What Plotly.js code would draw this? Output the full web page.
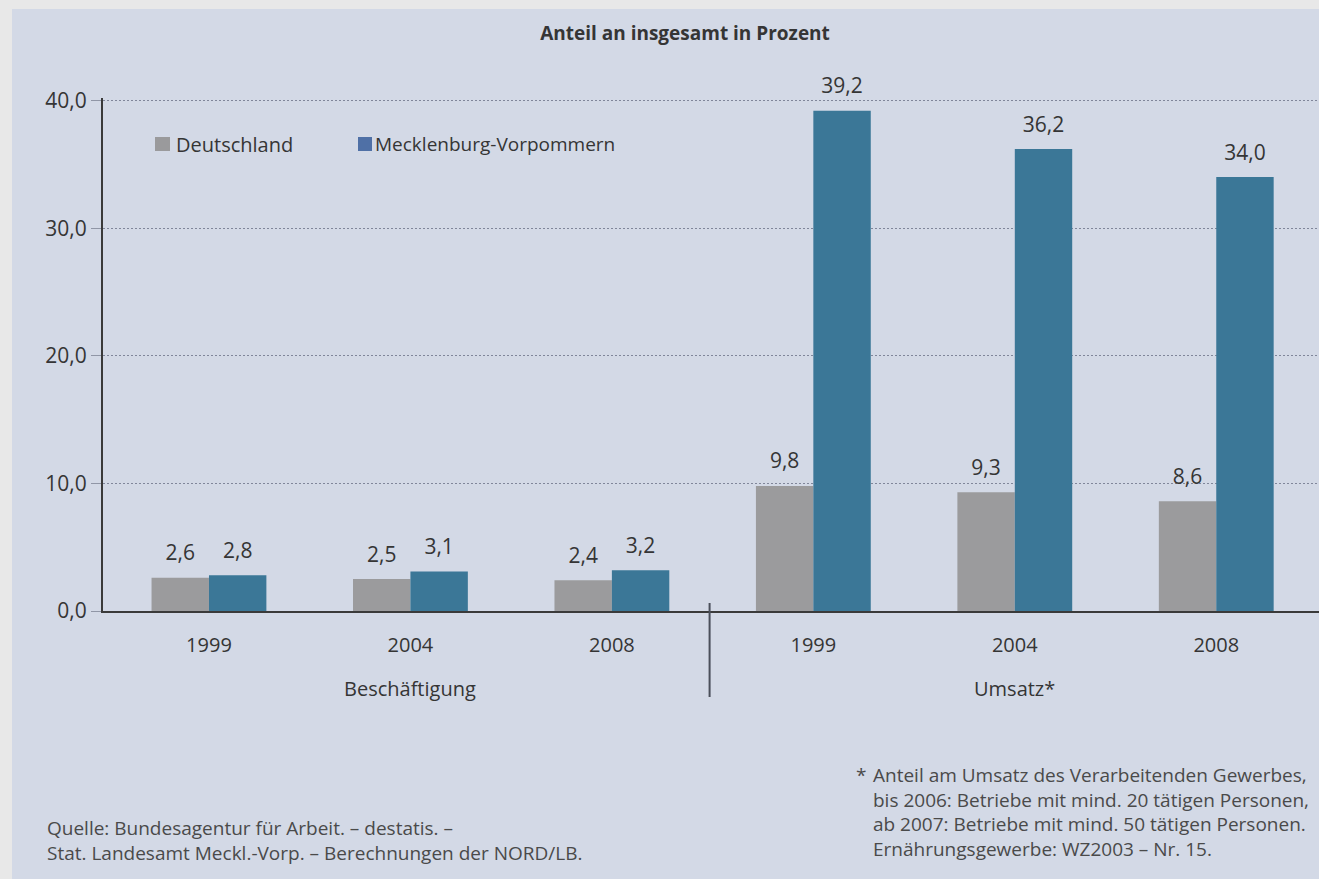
<!DOCTYPE html>
<html>
<head>
<meta charset="utf-8">
<script src="https://cdn.plot.ly/plotly-3.0.1.min.js"></script>
<style>html,body{margin:0;padding:0;background:#d3d9e6;overflow:hidden;}#chart{width:1319px;height:879px;}</style>
</head>
<body>
<div id="chart"></div>
<script>
// ---- data ----
var groups = ["Beschäftigung", "Beschäftigung", "Beschäftigung", "Umsatz*", "Umsatz*", "Umsatz*"];
var years = ["1999", "2004", "2008", "1999", "2004", "2008"];
var deutschland = [2.6, 2.5, 2.4, 9.8, 9.3, 8.6];
var mv = [2.8, 3.1, 3.2, 39.2, 36.2, 34.0];
var seriesNames = ["Deutschland", "Mecklenburg-Vorpommern"];
var groupNames = ["Beschäftigung", "Umsatz*"];
var yTicks = [0, 10, 20, 30, 40];
var titleText = "Anteil an insgesamt in Prozent";
var sourceLines = ["Quelle: Bundesagentur für Arbeit. – destatis. –",
                   "Stat. Landesamt Meckl.-Vorp. – Berechnungen der NORD/LB."];
var noteMark = "*";
var noteLines = ["Anteil am Umsatz des Verarbeitenden Gewerbes,",
                 "bis 2006: Betriebe mit mind. 20 tätigen Personen,",
                 "ab 2007: Betriebe mit mind. 50 tätigen Personen.",
                 "Ernährungsgewerbe: WZ2003 – Nr. 15."];

// unique category keys built from group + year
var cats = groups.map(function (g, i) { return g + " " + years[i]; });

var W = 1319, H = 879;
var L = 103, R = 0, T = 98, B = 268;
var pw = W - L - R, ph = H - T - B;
function px(x) { return (x - L) / pw; }
function py(y) { return (H - B - y) / ph; }

var FONT = "Open Sans, sans-serif";
var TXT = "#353535";
var GREY = "#9b9b9d", BLUE = "#3b7797";
var GAP = 0.43;
function fmt(v) { return v.toFixed(1).replace(".", ","); }

var labelFont = {family: FONT, size: 21, color: TXT};
var traces = [
  {type: "bar", name: seriesNames[0], x: cats, y: deutschland, marker: {color: GREY},
   offsetgroup: "d", hoverinfo: "none", showlegend: false},
  {type: "bar", name: seriesNames[1], x: cats, y: mv, marker: {color: BLUE},
   offsetgroup: "m", hoverinfo: "none", showlegend: false},
  {type: "scatter", mode: "markers+text", x: cats, y: deutschland, offsetgroup: "d",
   marker: {size: 18, color: "rgba(0,0,0,0)"}, text: deutschland.map(fmt),
   textposition: "top center", textfont: labelFont, cliponaxis: false, hoverinfo: "none", showlegend: false},
  {type: "scatter", mode: "markers+text", x: cats, y: mv, offsetgroup: "m",
   marker: {size: 18, color: "rgba(0,0,0,0)"}, text: mv.map(fmt),
   textposition: "top center", textfont: labelFont, cliponaxis: false, hoverinfo: "none", showlegend: false}
];

var noteFont = {family: FONT, size: 19, color: "#4a4a4a"};
var annotations = [];
annotations.push({xref: "paper", yref: "paper", x: px(45), y: py(813), xanchor: "left", yanchor: "top",
  align: "left", text: sourceLines.join("<br>"), showarrow: false, font: noteFont});
annotations.push({xref: "paper", yref: "paper", x: px(854), y: py(760), xanchor: "left", yanchor: "top",
  align: "left", text: noteMark, showarrow: false, font: noteFont});
annotations.push({xref: "paper", yref: "paper", x: px(871), y: py(760), xanchor: "left", yanchor: "top",
  align: "left", text: noteLines.join("<br>"), showarrow: false, font: noteFont});
// group labels, centred under the middle category of each group
annotations.push({xref: "x", yref: "paper", x: cats[1], y: py(689), xanchor: "center", yanchor: "middle",
  text: groupNames[0], showarrow: false, font: {family: FONT, size: 20, color: TXT}});
annotations.push({xref: "x", yref: "paper", x: cats[4], y: py(689), xanchor: "center", yanchor: "middle",
  text: groupNames[1], showarrow: false, font: {family: FONT, size: 20, color: TXT}});
// legend
annotations.push({xref: "paper", yref: "paper", x: px(174), y: py(144), xanchor: "left", yanchor: "middle",
  text: seriesNames[0], showarrow: false, font: {family: FONT, size: 20, color: TXT}});
annotations.push({xref: "paper", yref: "paper", x: px(373), y: py(144), xanchor: "left", yanchor: "middle",
  text: seriesNames[1], showarrow: false, font: {family: FONT, size: 19, color: TXT}});

var layout = {
  width: W, height: H,
  margin: {l: L, r: R, t: T, b: B, pad: 0},
  paper_bgcolor: "#e8e8e8",
  plot_bgcolor: "rgba(0,0,0,0)",
  separators: ",.",
  font: {family: FONT, color: TXT, size: 16},
  title: {text: "<b>" + titleText + "</b>", x: 685 / W, xanchor: "center", y: 1 - 33 / H, yanchor: "middle",
          font: {family: FONT, size: 19, color: TXT}},
  barmode: "group",
  bargap: GAP,
  bargroupgap: 0,
  scattermode: "group",
  scattergap: GAP,
  showlegend: false,
  xaxis: {type: "category", range: [-0.526, 5.51], tickvals: cats, ticktext: years,
          showline: true, linecolor: "#3a3a3a", linewidth: 2,
          ticks: "", showgrid: false, ticklabelstandoff: 15,
          tickfont: {family: FONT, size: 20, color: TXT}, fixedrange: true},
  yaxis: {range: [0, 40.2], tickvals: yTicks, tickformat: ".1f", showline: true, linecolor: "#3a3a3a", linewidth: 2,
          ticks: "outside", ticklen: 10, tickcolor: "#9096a6", tickwidth: 1,
          showgrid: true, gridcolor: "#80869a", griddash: "2px,2px", gridwidth: 1, zeroline: false,
          tickfont: {family: FONT, size: 21, color: TXT}, fixedrange: true},
  shapes: [
    {type: "rect", xref: "paper", yref: "paper", layer: "below",
     x0: px(12), x1: px(W + 5), y0: py(H + 5), y1: py(9),
     fillcolor: "#d3d9e6", line: {width: 0}},
    {type: "line", xref: "x", yref: "paper", x0: 2.485, x1: 2.485, y0: py(603), y1: py(697),
     line: {color: "#4a4f5a", width: 2}},
    {type: "rect", xref: "paper", yref: "paper", x0: px(155), x1: px(170), y0: py(151), y1: py(137),
     fillcolor: "#9a9a9c", line: {width: 0}},
    {type: "rect", xref: "paper", yref: "paper", x0: px(358), x1: px(372), y0: py(151), y1: py(137),
     fillcolor: "#4f70a6", line: {width: 0}}
  ],
  annotations: annotations
};

Plotly.newPlot("chart", traces, layout, {staticPlot: true, displayModeBar: false});
</script>
</body>
</html>
